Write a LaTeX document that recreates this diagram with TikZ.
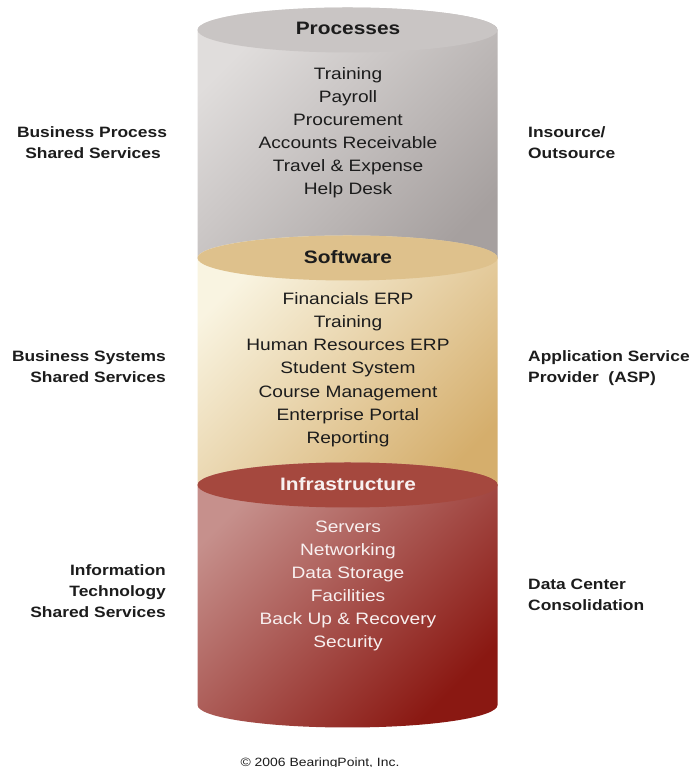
\documentclass[tikz,border=0pt]{standalone}
\usepackage{fontspec}
\setmainfont{Liberation Sans}[FakeStretch=1.16]
\definecolor{txt}{RGB}{28,28,28}
\definecolor{procTop}{RGB}{201,197,196}
\definecolor{procL}{RGB}{224,221,220}
\definecolor{procR}{RGB}{166,160,159}
\definecolor{softTop}{RGB}{222,193,140}
\definecolor{softL}{RGB}{249,244,225}
\definecolor{softR}{RGB}{213,174,108}
\definecolor{infTop}{RGB}{165,72,62}
\definecolor{infL}{RGB}{198,144,140}
\definecolor{infR}{RGB}{138,24,18}
\definecolor{infTxt}{RGB}{248,240,240}
\tikzset{
  item/.style={anchor=base, inner sep=0pt, text=txt, font=\fontsize{16.5}{20}\selectfont},
  ttl/.style={anchor=base, inner sep=0pt, text=txt, font=\bfseries\fontsize{18}{22}\selectfont},
  side/.style={inner sep=0pt, text=txt, font=\bfseries\fontsize{15}{18}\selectfont},
  ell/.style={x radius=150pt, y radius=22.5pt},
}
\begin{document}
\begin{tikzpicture}[x=1pt,y=1pt]
\useasboundingbox (0,0) rectangle (690,767);
\fill[white] (0,0) rectangle (690,767);
% Processes body
\shade[top color=procL, bottom color=procR, shading angle=45]
  (197.5,737) -- (197.5,509) arc[start angle=180, end angle=360, ell]
  -- (497.5,737) arc[start angle=0, end angle=180, ell] -- cycle;
\fill[procTop] (347.5,737) ellipse [ell];
% Software body
\shade[top color=softL, bottom color=softR, shading angle=45]
  (197.5,509) -- (197.5,282) arc[start angle=180, end angle=360, ell]
  -- (497.5,509) arc[start angle=0, end angle=180, ell] -- cycle;
\fill[softTop] (347.5,509) ellipse [ell];
% Infrastructure body
\shade[top color=infL, bottom color=infR, shading angle=45]
  (197.5,282) -- (197.5,62) arc[start angle=180, end angle=360, ell]
  -- (497.5,282) arc[start angle=0, end angle=180, ell] -- cycle;
\fill[infTop] (347.5,282) ellipse [ell];

% titles
\node[ttl] (tproc) at (348,732) {Processes};
\node[ttl] (tsoft) at (348,503) {Software};
\node[ttl, text=infTxt] (tinf) at (348,276) {Infrastructure};

% items
\foreach \t/\y [count=\i] in {Training/687, Payroll/664, Procurement/641, Accounts Receivable/618, Travel \& Expense/595, Help Desk/572}
  \node[item] (p\i) at (348,\y) {\t};
\foreach \t/\y [count=\i] in {Financials ERP/462, Training/439, Human Resources ERP/416, Student System/393, Course Management/369, Enterprise Portal/346, Reporting/323}
  \node[item] (s\i) at (348,\y) {\t};
\foreach \t/\y [count=\i] in {Servers/234, Networking/211, Data Storage/188, Facilities/165, Back Up \& Recovery/142, Security/119}
  \node[item, text=infTxt] (i\i) at (348,\y) {\t};

% left labels
\node[side, anchor=base] (l1a) at (92,629) {Business Process};
\node[side, anchor=base] (l1b) at (93,608) {Shared Services};
\node[side, anchor=base east] (l2a) at (166,405) {Business Systems};
\node[side, anchor=base east] (l2b) at (166,384) {Shared Services};
\node[side, anchor=base east] (l3a) at (166,191) {Information};
\node[side, anchor=base east] (l3b) at (166,170) {Technology};
\node[side, anchor=base east] (l3c) at (166,149) {Shared Services};

% right labels
\node[side, anchor=base west] (r1a) at (528,629) {Insource/};
\node[side, anchor=base west] (r1b) at (528,608) {Outsource};
\node[side, anchor=base west] (r2a) at (528,405) {Application Service};
\node[side, anchor=base west] (r2b) at (528,384) {Provider\ \ (ASP)};
\node[side, anchor=base west] (r3a) at (528,177) {Data Center};
\node[side, anchor=base west] (r3b) at (528,156) {Consolidation};

% copyright
\node[anchor=base, inner sep=0pt, text=txt, font=\fontsize{12}{14}\selectfont] (copy) at (320,1) {\textcopyright{} 2006 BearingPoint, Inc.};
\end{tikzpicture}
\end{document}
